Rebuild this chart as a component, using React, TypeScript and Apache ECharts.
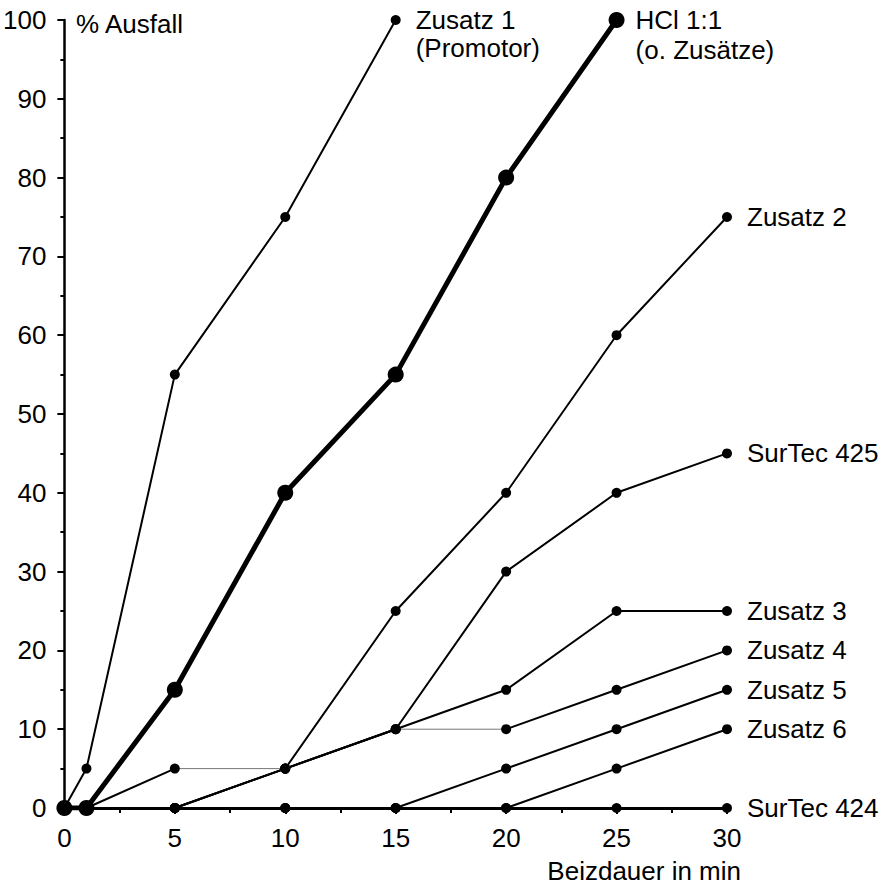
import React, { useEffect, useRef } from "react";
import * as echarts from "echarts";

const xTicks = [0, 5, 10, 15, 20, 25, 30];
const yTicks = [0, 10, 20, 30, 40, 50, 60, 70, 80, 90, 100];

// [x, y] points of every series
const zusatz1 = [[0, 0], [1, 5], [5, 55], [10, 75], [15, 100]];
const hcl = [[0, 0], [1, 0], [5, 15], [10, 40], [15, 55], [20, 80], [25, 100]];
const zusatz2 = [[0, 0], [1, 0], [5, 5], [10, 5], [15, 25], [20, 40], [25, 60], [30, 75]];
const surtec425 = [[0, 0], [5, 0], [10, 5], [15, 10], [20, 30], [25, 40], [30, 45]];
const zusatz3 = [[0, 0], [5, 0], [10, 5], [15, 10], [20, 15], [25, 25], [30, 25]];
const zusatz4 = [[0, 0], [5, 0], [10, 5], [15, 10], [20, 10], [25, 15], [30, 20]];
const zusatz5 = [[0, 0], [5, 0], [10, 0], [15, 0], [20, 5], [25, 10], [30, 15]];
const zusatz6 = [[0, 0], [5, 0], [10, 0], [15, 0], [20, 0], [25, 5], [30, 10]];
const surtec424 = [[0, 0], [5, 0], [10, 0], [15, 0], [20, 0], [25, 0], [30, 0]];

const seriesNames = [
  "Zusatz 1\n(Promotor)",
  "HCl 1:1\n(o. Zusätze)",
  "Zusatz 2",
  "SurTec 425",
  "Zusatz 3",
  "Zusatz 4",
  "Zusatz 5",
  "Zusatz 6",
  "SurTec 424",
];
const seriesData = [zusatz1, hcl, zusatz2, surtec425, zusatz3, zusatz4, zusatz5, zusatz6, surtec424];
// index of the segment start that is drawn as a thin line
const thinSegment: (number | null)[] = [null, null, 2, null, null, 3, null, null, null];

const FONT = "'Liberation Sans', Arial, Helvetica, sans-serif";
const FS = 26;

export default function App() {
  const ref = useRef<HTMLDivElement>(null);
  useEffect(() => {
    if (!ref.current) return;
    const chart = echarts.init(ref.current, null, { renderer: "svg" });
    const series: any[] = [];
    seriesData.forEach((pts, i) => {
      const isHcl = i === 1;
      const thin = thinSegment[i];
      let data: any[] = pts.map((p) => p.slice());
      if (thin !== null) {
        const a = pts[thin], b = pts[thin + 1];
        data = [
          ...pts.slice(0, thin + 1),
          [(a[0] + b[0]) / 2, null],
          ...pts.slice(thin + 1),
        ];
        series.push({
          type: "line",
          data: [a, b],
          symbol: "none",
          lineStyle: { color: "#777", width: 1 },
          z: 1,
          silent: true,
        });
      }
      const twoLines = seriesNames[i].includes("\n");
      const lh = isHcl ? 30 : 28;
      series.push({
        type: "line",
        name: seriesNames[i],
        data,
        connectNulls: false,
        symbol: "circle",
        symbolSize: isHcl ? 16 : 10,
        itemStyle: { color: "#000" },
        lineStyle: { color: "#000", width: isHcl ? 5 : 2 },
        z: isHcl ? 3 : 2,
        endLabel: {
          show: true,
          formatter: seriesNames[i],
          distance: isHcl ? 19 : 20,
          fontFamily: FONT,
          fontSize: FS,
          color: "#000",
          lineHeight: lh,
          offset: twoLines ? [0, lh / 2] : [0, 0],
          align: "left",
        },
      });
    });
    chart.setOption({
      animation: false,
      backgroundColor: "#fff",
      grid: { left: 63, right: 165, top: 20, bottom: 77 },
      xAxis: {
        type: "value",
        min: xTicks[0],
        max: xTicks[xTicks.length - 1],
        interval: 5,
        axisLine: { show: true, onZero: false, lineStyle: { color: "#000", width: 3 } },
        axisTick: { show: true, length: 6, lineStyle: { color: "#000", width: 2 } },
        minorTick: { show: true, splitNumber: 2, length: 5, lineStyle: { color: "#000", width: 2 } },
        splitLine: { show: false },
        axisLabel: { fontFamily: FONT, fontSize: FS, color: "#000", margin: 17 },
      },
      yAxis: {
        type: "value",
        min: yTicks[0],
        max: yTicks[yTicks.length - 1],
        interval: 10,
        axisLine: { show: true, onZero: false, lineStyle: { color: "#000", width: 2.5 } },
        axisTick: { show: true, length: 7, lineStyle: { color: "#000", width: 2 } },
        minorTick: { show: true, splitNumber: 2, length: 4, lineStyle: { color: "#000", width: 2 } },
        splitLine: { show: false },
        axisLabel: { fontFamily: FONT, fontSize: FS, color: "#000", margin: 18 },
      },
      graphic: [
        {
          type: "text",
          x: 76,
          y: 24,
          style: {
            text: "% Ausfall",
            font: `${FS}px ${FONT}`,
            fill: "#000",
            align: "left",
            verticalAlign: "middle",
          },
        },
        {
          type: "text",
          x: 741,
          y: 871,
          style: {
            text: "Beizdauer in min",
            font: `${FS}px ${FONT}`,
            fill: "#000",
            align: "right",
            verticalAlign: "middle",
          },
        },
      ],
      series,
    });
    return () => chart.dispose();
  }, []);
  return (
    <div
      ref={ref}
      style={{ position: "fixed", left: 0, top: 0, width: 892, height: 885, background: "#fff" }}
    />
  );
}
